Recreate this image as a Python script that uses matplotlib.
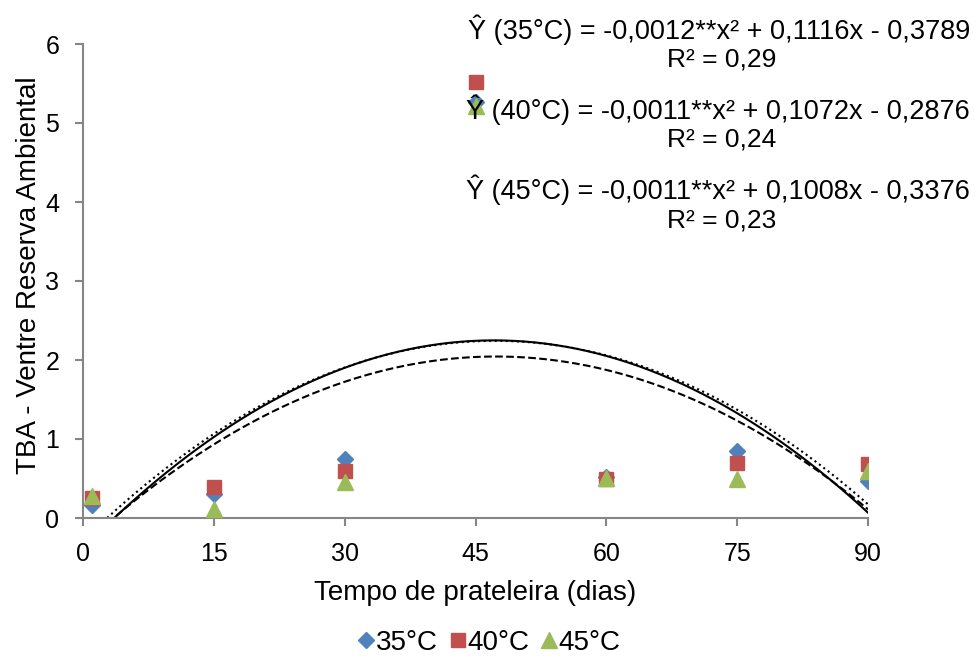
import matplotlib.pyplot as plt
import numpy as np

plt.rcParams['font.family'] = ['Liberation Sans', 'DejaVu Sans']

dias = [1, 15, 30, 45, 60, 75, 90]
tba_35 = [0.17, 0.31, 0.75, 5.27, 0.52, 0.85, 0.47]
tba_40 = [0.25, 0.39, 0.60, 5.52, 0.49, 0.70, 0.68]
tba_45 = [0.28, 0.11, 0.46, 5.22, 0.51, 0.49, 0.60]

labels = ["35°C", "40°C", "45°C"]
equations = [
    "Ŷ (35°C) = -0,0012**x² + 0,1116x - 0,3789",
    "Ŷ (40°C) = -0,0011**x² + 0,1072x - 0,2876",
    "Ŷ (45°C) = -0,0011**x² + 0,1008x - 0,3376",
]
r2_texts = ["R² = 0,29", "R² = 0,24", "R² = 0,23"]

colors = ["#4F81BD", "#C0504D", "#9BBB59"]
markers = ["D", "s", "^"]
msizes = [8, 10, 11]
trend_styles = ["-", ":", "--"]

fig = plt.figure(figsize=(9.75, 6.56), dpi=100)
ax = fig.add_axes([83 / 975, 1 - 518 / 656, 785 / 975, 474 / 656])

series = [tba_35, tba_40, tba_45]

# quadratic trend lines (fitted to each series)
xs = np.linspace(0, 90, 300)
for y, ls in zip(series, trend_styles):
    coef = np.polyfit(dias, y, 2)
    ax.plot(xs, np.polyval(coef, xs), color="black", linestyle=ls,
            linewidth=1.5, zorder=2)

handles = []
for y, c, m, ms, lab in zip(series, colors, markers, msizes, labels):
    h, = ax.plot(dias, y, linestyle="none", marker=m, color=c,
                 markersize=ms, label=lab, zorder=3)
    handles.append(h)

ax.set_xlim(0, 90)
ax.set_ylim(0, 6)
ax.set_xticks([0, 15, 30, 45, 60, 75, 90])
ax.set_yticks(range(0, 7))
for side in ["top", "right"]:
    ax.spines[side].set_visible(False)
for side in ["left", "bottom"]:
    ax.spines[side].set_color("#868686")
    ax.spines[side].set_linewidth(1.5)
ax.tick_params(axis="both", direction="out", length=6, width=1.5,
               color="#868686", labelsize=18)
ax.tick_params(axis="y", pad=11)
ax.tick_params(axis="x", pad=11)

fig.text(475 / 975, 1 - 593 / 656, "Tempo de prateleira (dias)", fontsize=20,
         ha="center", va="center")
fig.text(29 / 975, 1 - 275 / 656, "TBA - Ventre Reserva Ambiental", fontsize=20,
         ha="center", va="center", rotation=90)

# equations
eq_y = [30, 110, 190]
for eq, r2, yy in zip(equations, r2_texts, eq_y):
    fig.text(970 / 975, 1 - yy / 656, eq, fontsize=19.5, ha="right", va="center")
    fig.text(722 / 975, 1 - (yy + 30) / 656, r2, fontsize=19, ha="center", va="center")

fig.legend(handles=handles, loc="center", bbox_to_anchor=(490 / 975, 1 - 643 / 656),
           ncol=3, frameon=False, fontsize=20, handlelength=0.5,
           handletextpad=0.1, columnspacing=0.45, markerscale=1.0,
           borderpad=0.1)

fig.savefig("out.png", dpi=100)
